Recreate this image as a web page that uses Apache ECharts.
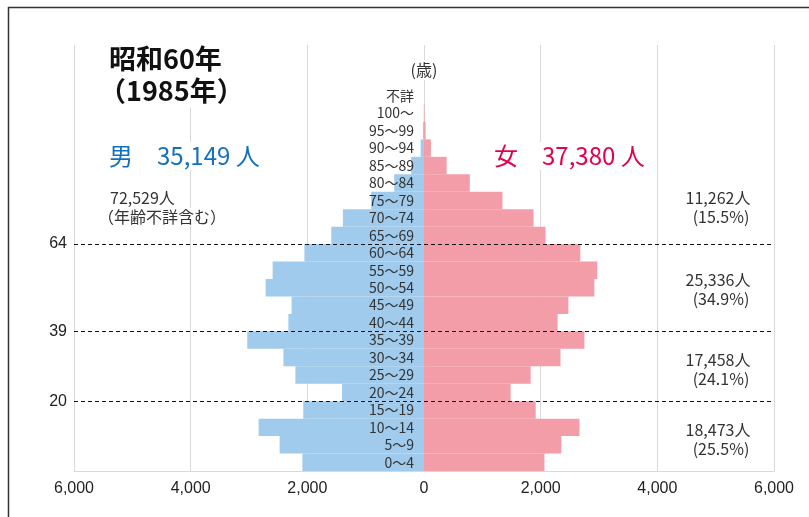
<!DOCTYPE html>
<html>
<head>
<meta charset="utf-8">
<script src="https://cdn.jsdelivr.net/npm/echarts@6/dist/echarts.min.js"></script>
<style>
html,body{margin:0;padding:0;background:#fff;}
#chart{width:809px;height:517px;}
</style>
</head>
<body>
<div id="chart"></div>
<script>
// ---- data ----
const ageGroups = ['0～4','5～9','10～14','15～19','20～24','25～29','30～34','35～39','40～44','45～49','50～54','55～59','60～64','65～69','70～74','75～79','80～84','85～89','90～94','95～99','100～','不詳'];
const male   = [2085,2475,2835,2070,1405,2205,2410,3030,2325,2270,2715,2595,2050,1590,1390,905,510,220,57,18,4,0];
const female = [2065,2355,2665,1915,1485,1828,2340,2750,2290,2475,2920,2970,2680,2083,1878,1345,785,388,118,28,8,0];
const xTicks = [-6000,-4000,-2000,0,2000,4000,6000];
const dividerAges = ['64','39','20'];
const dividerAfterGroup = ['60～64','35～39','15～19'];
const titleLines = ['昭和60年','（1985年）'];
const maleTotal = '男　35,149 人';
const femaleTotal = '女　37,380 人';
const grandTotal = ['72,529人','（年齢不詳含む）'];
const groupTotals = ['11,262人','25,336人','17,458人','18,473人'];
const groupShares = ['(15.5%)','(34.9%)','(24.1%)','(25.5%)'];
const ageUnit = '(歳)';

// ---- chart ----
const chart = echarts.init(document.getElementById('chart'));
const fmt = v => Math.abs(v).toLocaleString('en-US');
const CJK = '"Noto Sans CJK JP", "Noto Sans", sans-serif';
const gridLeft = 74, gridRight = 35;
const plotW = 809 - gridLeft - gridRight;
const zeroOffset = -plotW * (0 - xTicks[0]) / (xTicks[xTicks.length-1] - xTicks[0]);

const annY = [198, 280, 360, 430];
const txt = (x, y, text, font, fill, extra) => ({type:'text', x, y, z:50,
  style:Object.assign({text, font, fill, verticalAlign:'middle', textVerticalAlign:'middle'}, extra || {})});
const bg = p => ({backgroundColor:'#fff', padding:p});
const graphics = [
  {type:'rect', shape:{x:8.5, y:7.5, width:900, height:600}, style:{fill:'none', stroke:'#333', lineWidth:1.5}, z:100},
  txt(107, 59, titleLines[0], 'bold 27px '+CJK, '#111', bg([3,2])),
  txt(97, 91, titleLines[1], 'bold 27px '+CJK, '#111', bg([3,2])),
  txt(107, 156, maleTotal, '24px '+CJK, '#1470BD', bg([2,2])),
  txt(492, 156, femaleTotal, '24px '+CJK, '#E4004F', bg([2,2])),
  txt(109, 198, grandTotal[0], '16px '+CJK, '#333', bg([1,1])),
  txt(97, 217, grandTotal[1], '16px '+CJK, '#333', bg([1,1])),
  txt(424, 70, ageUnit, '16px '+CJK, '#333', Object.assign({align:'center', textAlign:'center'}, bg([2,2])))
];
groupTotals.forEach((t,i)=>{
  graphics.push(txt(718, annY[i], t, '16px '+CJK, '#333', {align:'center', textAlign:'center'}));
  graphics.push(txt(721, annY[i]+19, groupShares[i], '16px '+CJK, '#333', {align:'center', textAlign:'center'}));
});

const dividerRows = dividerAfterGroup.map(g => ageGroups.indexOf(g) + 1);

const option = {
  animation:false,
  backgroundColor:'#fff',
  grid:[
    {left:gridLeft, right:gridRight, top:45, bottom:46},
    {left:gridLeft, right:gridRight, top:87, bottom:46}
  ],
  xAxis:[
    {gridIndex:0, type:'value', min:xTicks[0], max:xTicks[xTicks.length-1], interval:2000,
     axisLine:{show:true, onZero:false, lineStyle:{color:'#d9d9d9'}},
     axisTick:{show:false},
     axisLabel:{formatter:fmt, fontSize:16, color:'#222', margin:10, fontFamily:'"Liberation Sans", Arial, sans-serif'},
     splitLine:{show:true, lineStyle:{color:'#d9d9d9', width:1}}},
    {gridIndex:1, type:'value', min:xTicks[0], max:xTicks[xTicks.length-1], interval:2000, show:false, splitLine:{show:false}}
  ],
  yAxis:[
    {gridIndex:0, type:'value', min:0, max:1, show:false, splitLine:{show:false}},
    {gridIndex:1, type:'category', data:ageGroups, z:10, position:'left', offset:zeroOffset,
     axisLine:{show:false, onZero:false},
     axisTick:{show:false},
     axisLabel:{interval:0, fontSize:14, color:'#333', margin:10, fontFamily:CJK},
     splitLine:{show:false}},
    {gridIndex:1, type:'value', min:0, max:ageGroups.length, show:false, splitLine:{show:false}}
  ],
  series:[
    {name:'男', type:'bar', xAxisIndex:1, yAxisIndex:1, data:male.map(v=>-v), barGap:'-100%', barCategoryGap:0,
     itemStyle:{color:'#A0CBEC'}, z:2},
    {name:'女', type:'bar', xAxisIndex:1, yAxisIndex:1, data:female, barGap:'-100%', barCategoryGap:0,
     itemStyle:{color:'#F29DA7'}, z:2},
    {name:'dividers', type:'line', xAxisIndex:1, yAxisIndex:2, data:[], z:5,
     markLine:{silent:true, symbol:['none','none'],
       lineStyle:{color:'#111', type:[4,3], width:1},
       label:{show:true, position:'start', distance:7, fontSize:16, color:'#222', fontFamily:'"Liberation Sans", Arial, sans-serif',
              formatter:p=>dividerAges[p.dataIndex]},
       data:dividerRows.map(r=>({yAxis:r}))}}
  ],
  graphic:graphics
};
chart.setOption(option);
</script>
</body>
</html>
